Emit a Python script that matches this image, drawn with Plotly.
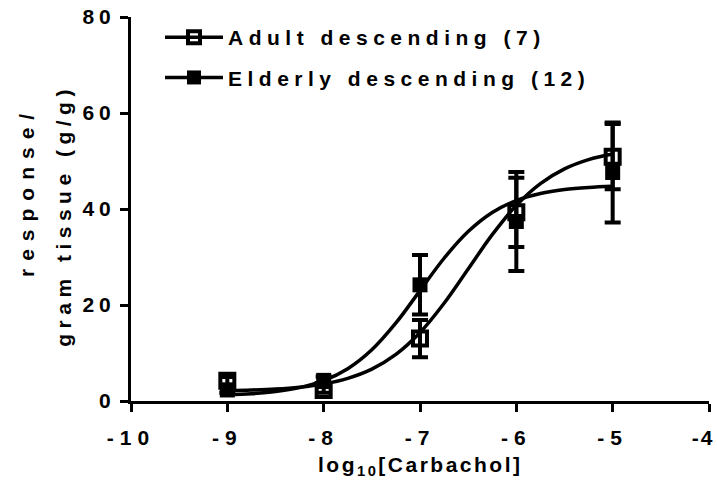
import plotly.graph_objects as go

# ---- data ----
doses = [-9, -8, -7, -6, -5]
adult_mean = [4.2, 2.3, 13.0, 39.3, 50.9]
adult_sem = [0.8, 0.6, 3.9, 7.2, 6.8]
elderly_mean = [2.3, 4.3, 24.2, 37.4, 47.6]
elderly_sem = [0.6, 0.8, 6.2, 10.3, 10.4]

curve_x = [-9, -8.75, -8.5, -8.25, -8, -7.75, -7.5, -7.25, -7, -6.75, -6.5, -6.25, -6, -5.75, -5.5, -5.25, -5]
adult_curve = [2.16, 2.29, 2.50, 2.89, 3.56, 4.72, 6.64, 9.70, 14.26, 20.36, 27.5, 34.65, 40.75, 45.29, 48.36, 50.29, 51.44]
elderly_curve = [1.28, 1.52, 1.96, 2.78, 4.24, 6.73, 10.67, 16.26, 23.0, 29.74, 35.3, 39.27, 41.76, 43.22, 44.04, 44.48, 44.72]

series_names = ["Adult descending (7)", "Elderly descending (12)"]
x_ticks = [-10, -9, -8, -7, -6, -5, -4]
y_ticks = [0, 20, 40, 60, 80]

FONT = "Liberation Sans, Arial, sans-serif"
W, H = 717, 494
L, R, T, B = 131, 8, 17, 93
pw, ph = W - L - R, H - T - B

fig = go.Figure()

fig.add_trace(go.Scatter(
    x=doses, y=adult_mean, mode="markers", showlegend=False,
    marker=dict(symbol="square-open", size=14, color="black", line=dict(width=4, color="black")),
    error_y=dict(type="data", array=adult_sem, visible=True, color="black", thickness=4, width=8),
))
fig.add_trace(go.Scatter(
    x=doses, y=elderly_mean, mode="markers", showlegend=False,
    marker=dict(symbol="square", size=15, color="black", line=dict(width=0)),
    error_y=dict(type="data", array=elderly_sem, visible=True, color="black", thickness=4, width=8),
))
fig.add_trace(go.Scatter(x=curve_x, y=adult_curve, mode="lines", showlegend=False,
                         line=dict(color="black", width=3.5, shape="spline")))
fig.add_trace(go.Scatter(x=curve_x, y=elderly_curve, mode="lines", showlegend=False,
                         line=dict(color="black", width=3.5, shape="spline")))
fig.add_trace(go.Scatter(x=[None], y=[None], mode="lines+markers", name="<b>" + series_names[0] + "</b>",
                         legendgroup="a", line=dict(color="black", width=3.5),
                         marker=dict(symbol="square-open", size=12, color="black", line=dict(width=4, color="black"))))
fig.add_trace(go.Scatter(x=[None], y=[None], mode="lines+markers", name="<b>" + series_names[1] + "</b>",
                         legendgroup="b", line=dict(color="black", width=3.5),
                         marker=dict(symbol="square", size=14, color="black")))

axis_font = dict(family=FONT, size=21, color="black", weight=700)

fig.update_xaxes(range=[-10, -4], tickvals=x_ticks, ticktext=["<b>%d</b>" % v for v in x_ticks],
                 showgrid=False, zeroline=False, showline=True, linecolor="black", linewidth=3,
                 ticks="outside", ticklen=8, tickwidth=3, tickcolor="black",
                 tickfont=axis_font, ticklabelstandoff=8, ticklabeloverflow="allow")
fig.update_yaxes(range=[0, 80], tickvals=y_ticks, ticktext=["<b>%d</b>" % v for v in y_ticks],
                 showgrid=False, zeroline=False, showline=True, linecolor="black", linewidth=3,
                 ticks="outside", ticklen=8, tickwidth=3, tickcolor="black",
                 tickfont=axis_font, ticklabelstandoff=0, ticklabeloverflow="allow")

title_font = dict(family=FONT, size=21, color="black", weight=700)
annotations = [
    dict(text="<b>log<sub>10</sub>[Carbachol]</b>", xref="paper", yref="paper",
         x=(420 - L) / pw, y=(H - B - 466) / ph, xanchor="center", yanchor="middle",
         showarrow=False, font=title_font),
    dict(text="<b>response/</b>", xref="paper", yref="paper", textangle=-90,
         x=(26 - L) / pw, y=(H - B - 192) / ph, xanchor="center", yanchor="middle",
         showarrow=False, font=title_font),
    dict(text="<b>gram tissue (g/g)</b>", xref="paper", yref="paper", textangle=-90,
         x=(63 - L) / pw, y=(H - B - 216) / ph, xanchor="center", yanchor="middle",
         showarrow=False, font=title_font),
]

fig.update_layout(
    width=W, height=H, margin=dict(l=L, r=R, t=T, b=B, autoexpand=False),
    plot_bgcolor="white", paper_bgcolor="white",
    font=dict(family=FONT, color="black"),
    annotations=annotations,
    legend=dict(x=(160 - L) / pw, y=(H - B - 17) / ph, xanchor="left", yanchor="top",
                bgcolor="rgba(0,0,0,0)", font=dict(family=FONT, size=21, color="black", weight=700),
                itemwidth=58, tracegroupgap=10, traceorder="grouped"),
)

post = ("var s=document.createElement('style');"
        "s.textContent='body{margin:0 !important;}"
        ".legend, .legend *{clip-path:none !important;}"
        ".legendtext{letter-spacing:5.5px;}"
        ".xtick text{letter-spacing:6px;}"
        ".xtick:last-of-type text{letter-spacing:2px;translate:-6px 0;}"
        ".ytick text{letter-spacing:5px;}"
        ".annotation[data-index=\"0\"] text{letter-spacing:2.5px;}"
        ".annotation[data-index=\"1\"] text{letter-spacing:8px;}"
        ".annotation[data-index=\"2\"] text{letter-spacing:5.5px;}';"
        "document.head.appendChild(s);")
fig.write_html("out.html", post_script=post, config={"displayModeBar": False})
